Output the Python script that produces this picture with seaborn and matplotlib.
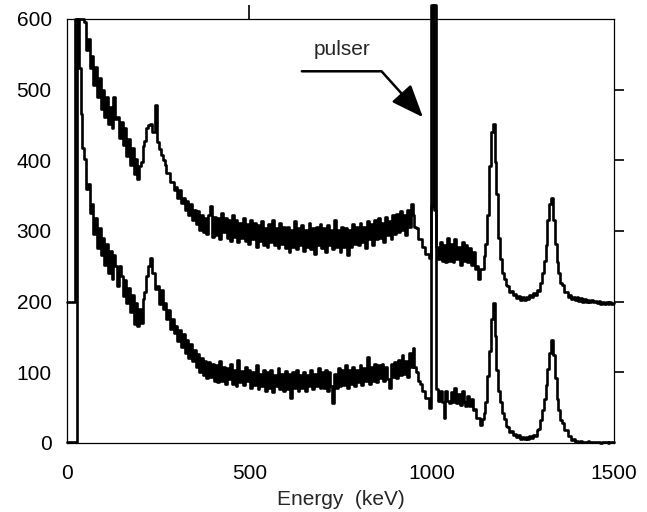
import matplotlib
matplotlib.use("Agg")
import matplotlib.pyplot as plt
import seaborn as sns
import pandas as pd

# Energy channels (keV), 5 keV bins
energy_keV = list(range(0, 1505, 5))

# Lower spectrum (counts)
lower_counts = [
    2, 2, 2, 2, 2, 2, 600, 530, 465, 418,
    402, 360, 366, 326, 338, 296, 318, 276, 304, 266,
    290, 252, 282, 240, 272, 232, 266, 250, 222, 250,
    236, 208, 230, 198, 220, 186, 210, 168, 198, 166,
    190, 170, 204, 214, 236, 250, 262, 240, 240, 218,
    222, 196, 216, 190, 198, 176, 188, 162, 176, 156,
    166, 144, 160, 136, 154, 128, 146, 120, 140, 116,
    132, 108, 126, 100, 120, 96, 116, 92, 114, 94,
    112, 88, 110, 86, 116, 88, 108, 84, 106, 90,
    112, 84, 104, 80, 118, 86, 102, 82, 108, 88,
    104, 78, 100, 82, 110, 76, 98, 80, 104, 74,
    100, 78, 104, 72, 96, 80, 106, 76, 98, 74,
    102, 76, 98, 64, 100, 78, 104, 74, 96, 78,
    100, 74, 96, 80, 104, 76, 98, 80, 106, 78,
    100, 78, 104, 74, 100, 80, 56, 98, 78, 106,
    80, 104, 82, 110, 78, 104, 84, 108, 80, 104,
    86, 110, 82, 106, 88, 122, 84, 108, 88, 112,
    86, 110, 92, 112, 88, 108, 90, 78, 112, 94,
    114, 92, 118, 96, 124, 98, 116, 94, 128, 108,
    134, 108, 100, 88, 84, 74, 74, 64, 64, 50,
    620, 620, 620, 76, 60, 74, 58, 36, 74, 60,
    56, 72, 58, 78, 56, 70, 54, 74, 58, 52,
    66, 52, 62, 46, 48, 36, 36, 26, 34, 42,
    58, 95, 130, 176, 198, 152, 104, 74, 58, 42,
    34, 24, 23, 16, 17, 11, 13, 8, 11, 6,
    9, 5, 8, 5, 10, 7, 12, 10, 18, 20,
    32, 47, 62, 82, 105, 128, 146, 124, 92, 62,
    46, 32, 28, 18, 18, 10, 10, 4, 6, 2,
    3, 1, 3, 1, 2, 1, 3, 1, 2, 1,
    2, 1, 2, 0, 2, 1, 2, 0, 2, 1,
    1,
]

# Upper spectrum (counts, displayed with offset)
upper_counts = [
    200, 200, 200, 200, 200, 600, 600, 600, 600, 600,
    596, 556, 572, 530, 548, 506, 532, 490, 516, 472,
    500, 462, 490, 452, 476, 446, 490, 458, 462, 432,
    454, 422, 446, 406, 430, 394, 418, 380, 402, 374,
    392, 398, 420, 428, 446, 450, 452, 440, 440, 478,
    426, 416, 408, 400, 394, 382, 382, 370, 370, 358,
    362, 346, 358, 340, 346, 330, 342, 322, 338, 316,
    330, 310, 328, 302, 322, 298, 318, 296, 322, 336,
    292, 320, 294, 318, 288, 326, 298, 318, 290, 316,
    286, 322, 292, 316, 284, 312, 290, 318, 286, 310,
    282, 316, 288, 312, 278, 308, 286, 314, 280, 304,
    278, 310, 284, 316, 280, 304, 276, 312, 282, 306,
    276, 306, 270, 302, 278, 314, 274, 304, 280, 308,
    272, 302, 278, 312, 274, 304, 268, 306, 280, 310,
    276, 304, 270, 308, 280, 302, 274, 316, 278, 302,
    270, 306, 278, 304, 266, 302, 278, 310, 282, 306,
    280, 312, 284, 306, 276, 314, 288, 310, 280, 316,
    288, 318, 290, 312, 284, 320, 294, 314, 288, 322,
    296, 324, 298, 328, 302, 322, 294, 330, 306, 338,
    322, 306, 304, 288, 288, 278, 278, 268, 268, 262,
    335, 620, 330, 278, 260, 284, 258, 280, 256, 290,
    258, 282, 256, 288, 260, 278, 252, 284, 258, 280,
    256, 276, 252, 270, 246, 250, 232, 246, 246, 264,
    282, 322, 392, 440, 452, 398, 352, 290, 260, 240,
    232, 223, 222, 214, 215, 209, 211, 205, 208, 203,
    206, 203, 207, 204, 209, 206, 212, 209, 216, 215,
    226, 240, 258, 280, 315, 338, 347, 316, 282, 256,
    240, 226, 223, 214, 214, 207, 209, 204, 207, 202,
    206, 201, 205, 200, 204, 200, 203, 199, 202, 199,
    201, 198, 201, 197, 200, 197, 199, 197, 199, 197,
    198,
]

x_ticks = [0, 500, 1000, 1500]
y_ticks = [0, 100, 200, 300, 400, 500, 600]
x_label = "Energy  (keV)"
annotation_text = "pulser"

sns.set_style("white")
plt.rcParams["font.family"] = ["Liberation Sans", "DejaVu Sans"]

df = pd.DataFrame({"energy": energy_keV, "lower": lower_counts, "upper": upper_counts})

fig = plt.figure(figsize=(6.47, 5.12), dpi=100)
ax = fig.add_axes([67 / 647, 1 - 443 / 512, (614 - 67) / 647, (443 - 19) / 512])

for col in ["lower", "upper"]:
    sns.lineplot(data=df, x="energy", y=col, ax=ax, color="black", lw=1.9,
                 drawstyle="steps-mid", estimator=None, clip_on=False)

ax.set_xlim(0, 1500)
ax.set_ylim(0, 600)
ax.set_xticks(x_ticks)
ax.set_yticks(y_ticks)
ax.set_xlabel(x_label, fontsize=15, labelpad=5)
ax.set_ylabel("")
ax.tick_params(axis="both", labelsize=15, colors="black", direction="out", width=1)
ax.tick_params(axis="x", length=3, pad=12)
ax.tick_params(axis="y", length=5, pad=6)

for s in ax.spines.values():
    s.set_visible(True)
    s.set_color("black")
    s.set_linewidth(0.9)

top = ax.secondary_xaxis("top")
top.set_xticks([500, 1000])
top.tick_params(axis="x", direction="out", length=10, width=1.2, labeltop=False, colors="black")
top.spines["top"].set_visible(False)

right = ax.secondary_yaxis("right")
right.set_yticks([100, 200, 300, 400, 500])
right.tick_params(axis="y", direction="out", length=7, width=1.2, labelright=False, colors="black")
right.spines["right"].set_visible(False)

ax.text(754, 549, annotation_text, fontsize=15, ha="center", va="baseline")
ax.annotate("", xy=(976, 461), xytext=(644, 526),
            arrowprops=dict(arrowstyle="-|>,head_length=1.0,head_width=0.4",
                            mutation_scale=20, color="black", lw=1.8,
                            shrinkA=0, shrinkB=0,
                            connectionstyle="angle,angleA=0,angleB=-48,rad=0"))

fig.savefig("out.png", dpi=100)
